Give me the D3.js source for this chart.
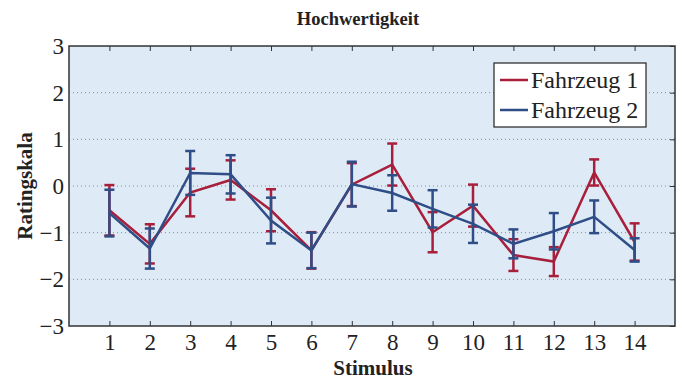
<!DOCTYPE html>
<html>
<head>
<meta charset="utf-8">
<script src="https://cdn.jsdelivr.net/npm/d3@7"></script>
<style>
  body { margin: 0; background: #fff; }
  text { font-family: "Liberation Serif", "Times New Roman", serif; fill: #222; }
</style>
</head>
<body>
<div id="graph"></div>
<script>
// data
var stimuli = [1, 2, 3, 4, 5, 6, 7, 8, 9, 10, 11, 12, 13, 14];
var mean1 = [-0.52, -1.24, -0.14, 0.13, -0.52, -1.38, 0.03, 0.46, -0.99, -0.42, -1.48, -1.62, 0.29, -1.20];
var err1  = [0.54, 0.42, 0.51, 0.42, 0.45, 0.39, 0.46, 0.45, 0.43, 0.45, 0.34, 0.31, 0.28, 0.40];
var mean2 = [-0.58, -1.34, 0.28, 0.25, -0.74, -1.38, 0.04, -0.15, -0.49, -0.81, -1.24, -0.97, -0.66, -1.37];
var err2  = [0.50, 0.43, 0.47, 0.41, 0.49, 0.38, 0.48, 0.38, 0.40, 0.41, 0.31, 0.39, 0.35, 0.25];
var yTicks = [-3, -2, -1, 0, 1, 2, 3];
var series = [
  {name: "Fahrzeug 1", mean: mean1, err: err1, color: "#a81f3b"},
  {name: "Fahrzeug 2", mean: mean2, err: err2, color: "#2f4d86"}
];

var margin = {top: 46, right: 7, bottom: 53, left: 69},
    width = 682 - margin.left - margin.right,
    height = 379 - margin.top - margin.bottom;

var x = d3.scaleLinear().domain([0, 15]).range([0, width]);
var y = d3.scaleLinear().domain([-3, 3]).range([height, 0]);

var svg = d3.select("#graph").append("svg")
    .attr("width", 682)
    .attr("height", 379);

var g = svg.append("g")
    .attr("transform", "translate(" + margin.left + "," + margin.top + ")");

// background
g.append("rect")
    .attr("width", width)
    .attr("height", height)
    .attr("fill", "#deebf7");

// horizontal dotted grid
g.selectAll(".grid")
    .data(yTicks.slice(1, -1))
    .enter().append("line")
    .attr("x1", 0).attr("x2", width)
    .attr("y1", d => y(d)).attr("y2", d => y(d))
    .attr("stroke", "#888")
    .attr("stroke-width", 1)
    .attr("stroke-dasharray", "1,3");

// axes (inward ticks, mirrored)
function styleAxis(sel) {
    sel.select(".domain").remove();
    sel.selectAll(".tick line").attr("stroke", "#333").attr("stroke-width", 1);
    sel.selectAll("text").style("font-size", "23px").attr("fill", "#222");
}
g.append("g")
    .attr("transform", "translate(0," + height + ")")
    .call(d3.axisBottom(x).tickValues(stimuli).tickSize(-5).tickPadding(8).tickFormat(d3.format("d")))
    .call(styleAxis);
g.append("g")
    .call(d3.axisTop(x).tickValues(stimuli).tickSize(-5).tickFormat(""))
    .call(styleAxis);
g.append("g")
    .call(d3.axisLeft(y).tickValues(yTicks).tickSize(0).tickPadding(5).tickFormat(d => d < 0 ? "\u2212" + Math.abs(d) : d))
    .call(styleAxis);
g.append("g")
    .attr("transform", "translate(" + width + ",0)")
    .call(d3.axisRight(y).tickValues(yTicks).tickSize(-5).tickFormat(""))
    .call(styleAxis);

// frame
g.append("rect")
    .attr("width", width)
    .attr("height", height)
    .attr("fill", "none")
    .attr("stroke", "#333")
    .attr("stroke-width", 1.5);

var line = d3.line()
    .x((d, i) => x(stimuli[i]))
    .y(d => y(d));

series.forEach(function(s) {
    var sg = g.append("g");
    sg.append("path")
        .datum(s.mean)
        .attr("d", line)
        .attr("fill", "none")
        .attr("stroke", s.color)
        .attr("stroke-width", 2.5);
    var eb = sg.selectAll(".eb")
        .data(s.mean.map((m, i) => ({x: stimuli[i], lo: m - s.err[i], hi: m + s.err[i]})))
        .enter().append("g");
    eb.append("line")
        .attr("x1", d => x(d.x)).attr("x2", d => x(d.x))
        .attr("y1", d => y(d.lo)).attr("y2", d => y(d.hi))
        .attr("stroke", s.color).attr("stroke-width", 2.5);
    ["lo", "hi"].forEach(function(k) {
        eb.append("line")
            .attr("x1", d => x(d.x) - 5).attr("x2", d => x(d.x) + 5)
            .attr("y1", d => y(d[k])).attr("y2", d => y(d[k]))
            .attr("stroke", s.color).attr("stroke-width", 2.5);
    });
});

// legend
var lg = svg.append("g").attr("transform", "translate(494,63)");
lg.append("rect")
    .attr("width", 152).attr("height", 64)
    .attr("fill", "#fff").attr("stroke", "#222").attr("stroke-width", 1.2);
series.forEach(function(s, i) {
    var yy = 17 + i * 30;
    lg.append("line")
        .attr("x1", 6).attr("x2", 34)
        .attr("y1", yy).attr("y2", yy)
        .attr("stroke", s.color).attr("stroke-width", 2.5);
    lg.append("text")
        .attr("x", 37).attr("y", yy + 8)
        .style("font-size", "24px")
        .text(s.name);
});

// title and axis labels
svg.append("text")
    .attr("x", 358).attr("y", 25)
    .attr("text-anchor", "middle")
    .style("font-size", "18.5px").style("font-weight", "bold")
    .text("Hochwertigkeit");
svg.append("text")
    .attr("x", 373).attr("y", 375)
    .attr("text-anchor", "middle")
    .style("font-size", "21px").style("font-weight", "bold")
    .text("Stimulus");
svg.append("text")
    .attr("transform", "translate(32," + (margin.top + height / 2) + ") rotate(-90)")
    .attr("text-anchor", "middle")
    .style("font-size", "21px").style("font-weight", "bold")
    .text("Ratingskala");
</script>
</body>
</html>
